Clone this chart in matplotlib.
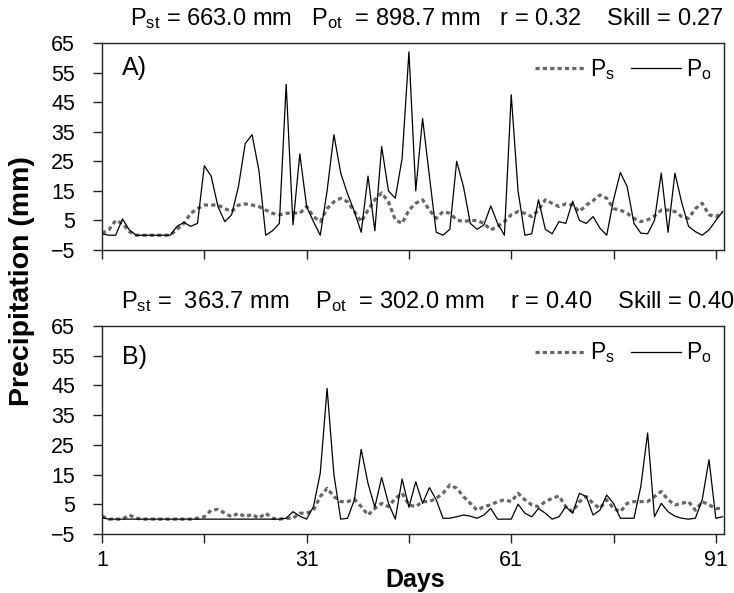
import numpy as np
import matplotlib
matplotlib.use("Agg")
import matplotlib.pyplot as plt

plt.rcParams['font.family'] = ['Liberation Sans', 'DejaVu Sans']
plt.rcParams['mathtext.default'] = 'regular'

days = np.arange(1, 93)

# panel A (simulated / observed daily precipitation, mm)
ps_a = [0.7, 1.8, 5.0, 4.0, 1.2, 0, 0, 0, 0, 0,
        0, 2.0, 4.0, 7.4, 9.0, 10.2, 10.2, 10.2, 9.0, 8.0,
        10.2, 10.6, 10.2, 9.7, 8.5, 7.4, 6.9, 7.4, 7.6, 7.4,
        9.7, 6.3, 4.6, 9.0, 11.3, 12.5, 11.3, 8.0, 4.6, 8.5,
        12.0, 14.3, 11.3, 5.2, 4.0, 8.5, 10.8, 12.0, 8.5, 5.7,
        8.0, 7.4, 5.2, 4.6, 5.0, 5.0, 4.0, 1.8, 3.0, 4.6,
        6.9, 8.0, 7.4, 6.3, 8.5, 12.0, 10.8, 9.7, 10.6, 10.2,
        8.0, 10.2, 11.7, 13.6, 12.5, 9.0, 8.5, 7.4, 5.7, 4.6,
        5.2, 6.5, 8.5, 8.5, 8.0, 6.3, 5.7, 9.0, 10.8, 6.9,
        6.3, 7.6]
po_a = [0.5, 0, 0, 5.5, 1.8, 0, 0, 0, 0, 0,
        0, 3.0, 4.3, 3.0, 4.0, 23.5, 20.0, 9.7, 4.6, 6.9,
        16.4, 31.0, 34.0, 22.0, 0, 1.5, 4.0, 51.0, 3.5, 27.5,
        9.7, 4.6, 0, 15.0, 34.0, 21.0, 14.0, 8.0, 1.0, 20.0,
        1.5, 30.0, 15.0, 12.5, 26.0, 62.0, 15.0, 39.5, 20.0, 1.0,
        0, 2.0, 25.0, 16.4, 4.0, 2.0, 3.5, 9.9, 4.0, 0,
        47.5, 15.0, 0, 0.5, 12.0, 2.0, 0.5, 4.6, 4.0, 11.5,
        5.0, 4.0, 6.3, 2.4, 0, 12.0, 21.2, 16.4, 4.0, 0.7,
        0.5, 5.0, 21.0, 1.0, 21.0, 11.0, 3.0, 1.2, 0, 1.8,
        5.0, 8.0]

# panel B
ps_b = [1.0, 0, 0, 0, 1.4, 0.3, 0, 0, 0, 0,
        0, 0, 0, 0, 0.3, 0.8, 3.0, 3.3, 2.0, 0.8,
        2.0, 0.8, 1.6, 0.3, 2.0, 0.3, 0, 0.3, 0.3, 2.0,
        2.0, 3.0, 7.6, 10.4, 7.6, 5.9, 5.9, 6.7, 4.2, 1.4,
        3.6, 5.3, 4.2, 7.0, 8.7, 4.8, 4.2, 5.9, 5.9, 7.0,
        8.7, 11.5, 10.4, 7.6, 5.3, 3.0, 4.2, 4.8, 5.9, 6.5,
        5.9, 8.7, 6.5, 4.8, 4.2, 5.9, 7.0, 7.8, 4.2, 2.5,
        5.9, 7.6, 5.3, 3.6, 6.5, 3.6, 2.5, 5.3, 5.9, 5.9,
        5.9, 7.6, 9.3, 6.5, 4.8, 5.3, 5.9, 3.0, 5.9, 4.8,
        3.6, 3.6]
po_b = [0.5, 0, 0, 0, 0, 0, 0, 0, 0, 0,
        0, 0, 0, 0, 0, 0, 0, 0, 0, 0,
        0, 0, 0, 0, 0, 0, 0, 0.3, 2.5, 1.0,
        0, 4.2, 15.5, 44.0, 15.0, 0, 0.3, 6.5, 23.5, 12.0,
        4.0, 14.0, 5.3, 0, 13.5, 4.0, 12.6, 5.3, 10.6, 6.5,
        0.3, 0.3, 0.8, 1.4, 1.0, 0.3, 1.4, 3.6, 0, 0,
        0, 5.0, 2.0, 0.8, 3.6, 2.0, 0, 0.8, 4.2, 2.0,
        8.7, 7.6, 1.4, 3.0, 8.1, 5.3, 0.3, 0.3, 0.3, 11.0,
        29.0, 0.8, 5.3, 2.5, 1.0, 0.3, 0, 0.3, 6.5, 20.0,
        0.3, 0.8]

titles = [r"P$_{st}$ = 663.0 mm   P$_{ot}$  = 898.7 mm   r = 0.32    Skill = 0.27",
          r"P$_{st}$ =  363.7 mm    P$_{ot}$  = 302.0 mm    r = 0.40    Skill = 0.40"]
panel_labels = ["A)", "B)"]

fig = plt.figure(figsize=(7.34, 5.93), dpi=100)
axA = fig.add_axes([0.139, 0.5784, 0.8474, 0.3491])
axB = fig.add_axes([0.139, 0.0995, 0.8474, 0.3508])

for i, (ax, ps, po) in enumerate([(axA, ps_a, po_a), (axB, ps_b, po_b)]):
    ax.plot(days, ps, color='#666666', lw=2.3, dashes=(1.3, 1.0),
            label=r"P$_s$")
    ax.plot(days, po, color='black', lw=0.9, label=r"P$_o$")
    ax.set_xlim(1, 92.2)
    ax.set_ylim(-5, 65)
    ax.set_yticks(np.arange(-5, 66, 10))
    ax.set_xticks([1, 16, 31, 46, 61, 76, 91])
    if i == 0:
        ax.set_xticklabels([])
    else:
        ax.set_xticklabels(['1', '', '31', '', '61', '', '91'])
    ax.tick_params(direction='out', length=6.5, width=1, labelsize=15.5,
                   color='#222222')
    ax.tick_params(axis='y', pad=13)
    ax.tick_params(axis='x', pad=5)
    for s in ax.spines.values():
        s.set_linewidth(1.0)
        s.set_color('#222222')
    ax.text(1.0 if i == 0 else 1.018, 1.087, titles[i],
            transform=ax.transAxes, ha='right', va='baseline', fontsize=17)
    ax.text(0.032, 0.935 if i == 0 else 0.91, panel_labels[i],
            transform=ax.transAxes, ha='left', va='top', fontsize=18)
    ax.legend(loc='upper right', bbox_to_anchor=(0.98, 0.93), ncol=2,
              frameon=False, fontsize=16.5, handlelength=2.2,
              handletextpad=0.2, columnspacing=0.7, borderpad=0,
              borderaxespad=0)

fig.text(0.030, 0.526, "Precipitation (mm)", rotation=90, ha='center',
         va='center', fontsize=20.5, fontweight='bold')
fig.text(0.566, 0.022, "Days", ha='center', va='center', fontsize=18,
         fontweight='bold')

plt.savefig("out.png", dpi=100)
